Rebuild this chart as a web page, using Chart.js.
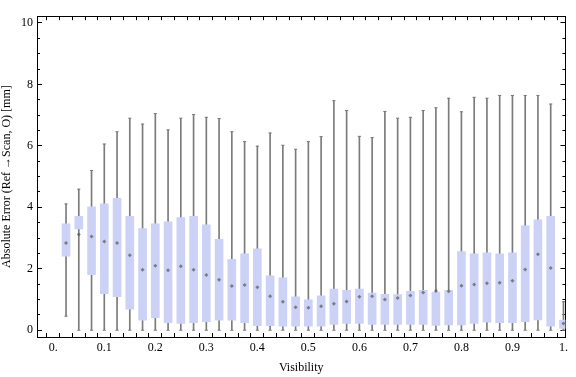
<!DOCTYPE html>
<html>
<head>
<meta charset="utf-8">
<script src="https://cdn.jsdelivr.net/npm/chart.js@4/dist/chart.umd.min.js"></script>
<style>
  html, body { margin: 0; padding: 0; background: #fff; }
  canvas { display: block; }
</style>
</head>
<body>
<canvas id="c" width="576" height="377"></canvas>
<script>
// ---- data ----
const visibility = [0.025, 0.05, 0.075, 0.1, 0.125, 0.15, 0.175, 0.2, 0.225, 0.25,
  0.275, 0.3, 0.325, 0.35, 0.375, 0.4, 0.425, 0.45, 0.475, 0.5,
  0.525, 0.55, 0.575, 0.6, 0.625, 0.65, 0.675, 0.7, 0.725, 0.75,
  0.775, 0.8, 0.825, 0.85, 0.875, 0.9, 0.925, 0.95, 0.975, 1.0];
const whiskerMin = [0.46, 0, 0, 0, 0, 0, 0, 0, 0, 0,
  0, 0, 0, 0, 0, 0, 0, 0, 0, 0,
  0, 0, 0, 0, 0, 0, 0, 0, 0, 0,
  0, 0, 0, 0, 0, 0, 0, 0, 0, 0];
const whiskerMax = [4.11, 4.59, 5.20, 6.06, 6.46, 6.90, 6.71, 7.05, 6.52, 6.90,
  7.02, 6.93, 6.89, 6.46, 6.14, 5.99, 6.42, 6.02, 5.89, 6.14,
  6.30, 7.47, 7.15, 6.31, 6.27, 7.12, 6.90, 6.93, 7.15, 7.24,
  7.55, 7.11, 7.58, 7.55, 7.64, 7.64, 7.64, 7.64, 7.36, 0.93];
const quartile1 = [2.41, 3.30, 1.81, 1.19, 1.09, 0.69, 0.33, 0.41, 0.25, 0.22,
  0.25, 0.28, 0.33, 0.33, 0.25, 0.15, 0.15, 0.13, 0.13, 0.13,
  0.13, 0.19, 0.22, 0.22, 0.19, 0.19, 0.19, 0.19, 0.19, 0.16,
  0.17, 0.17, 0.22, 0.26, 0.25, 0.25, 0.28, 0.34, 0.13, 0.06];
const quartile3 = [3.46, 3.71, 4.02, 4.11, 4.29, 3.71, 3.31, 3.46, 3.53, 3.67,
  3.71, 3.43, 2.96, 2.31, 2.49, 2.65, 1.77, 1.71, 1.09, 0.99,
  1.12, 1.34, 1.30, 1.34, 1.21, 1.17, 1.16, 1.27, 1.30, 1.24,
  1.30, 2.56, 2.49, 2.52, 2.49, 2.52, 3.40, 3.59, 3.71, 0.33];
const centerMark = [2.84, 3.12, 3.05, 2.89, 2.84, 2.44, 1.97, 2.10, 1.95, 2.08,
  1.97, 1.80, 1.64, 1.44, 1.47, 1.40, 1.11, 0.93, 0.75, 0.73,
  0.78, 0.86, 0.94, 1.09, 1.11, 1.00, 1.05, 1.13, 1.23, 1.28,
  1.27, 1.45, 1.49, 1.53, 1.55, 1.61, 1.98, 2.47, 2.03, 0.22];

const xTickValues = [0, 0.1, 0.2, 0.3, 0.4, 0.5, 0.6, 0.7, 0.8, 0.9, 1];
const xTickLabels = ['0.', '0.1', '0.2', '0.3', '0.4', '0.5', '0.6', '0.7', '0.8', '0.9', '1.'];
const yTickValues = [0, 2, 4, 6, 8, 10];
const yTickLabels = ['0', '2', '4', '6', '8', '10'];
const xMinorStep = 0.025;
const yMinorStep = 0.5;

// ---- styling ----
const FONT = '"Liberation Serif", "Times New Roman", serif';
const boxColor = '#ccd2f6';
const whiskerColor = '#7b7b7b';
const markColor = 'rgba(85,85,85,0.7)';

function stepTicks(lo, hi, step) {
  const out = [];
  const n = Math.round((hi - lo) / step);
  for (let i = 0; i <= n; i++) out.push(+(lo + i * step).toFixed(6));
  return out;
}
const xMinorTicks = stepTicks(0, 1, xMinorStep);
const yMinorTicks = stepTicks(0, 10, yMinorStep);

function labelFor(values, labels, v) {
  for (let i = 0; i < values.length; i++) if (Math.abs(values[i] - v) < 1e-9) return labels[i];
  return '';
}

const X_MIN = -0.0319, X_MAX = 1.0039;
const Y_MIN = -0.219, Y_MAX = 10.219;

const frameGrid = (len) => ({ drawOnChartArea: false, drawTicks: true, tickLength: len, tickColor: '#000', tickWidth: 1 });

const capData = [];
visibility.forEach((x, i) => { capData.push({ x: x, y: whiskerMax[i] }); capData.push({ x: x, y: whiskerMin[i] }); });

new Chart(document.getElementById('c'), {
  type: 'bar',
  data: {
    datasets: [
      {
        type: 'scatter', label: 'centre',
        data: visibility.map((x, i) => ({ x: x, y: centerMark[i] })),
        pointStyle: 'rectRot', pointRadius: 2, pointBackgroundColor: markColor,
        pointBorderWidth: 0, order: 0
      },
      {
        type: 'bar', label: 'box',
        data: visibility.map((x, i) => ({ x: x, y: [quartile1[i], quartile3[i]] })),
        backgroundColor: boxColor, borderWidth: 0, barThickness: 8, grouped: false, order: 1
      },
      {
        type: 'scatter', label: 'caps', data: capData,
        pointStyle: 'line', pointRadius: 1.6, pointBorderColor: whiskerColor, pointBorderWidth: 1, order: 2
      },
      {
        type: 'bar', label: 'whisker',
        data: visibility.map((x, i) => ({ x: x, y: [whiskerMin[i], whiskerMax[i]] })),
        backgroundColor: whiskerColor, borderWidth: 0, barThickness: 1, grouped: false, order: 3
      }
    ]
  },
  options: {
    responsive: false,
    animation: false,
    devicePixelRatio: 1,
    layout: { padding: 0 },
    plugins: { legend: { display: false }, tooltip: { enabled: false } },
    scales: {
      x: {
        type: 'linear', position: 'bottom', min: X_MIN, max: X_MAX, offset: false,
        afterBuildTicks: s => { s.ticks = xMinorTicks.map(v => ({ value: v })); },
        afterFit: s => { s.height = 40; },
        grid: frameGrid(-4),
        border: { display: true, color: '#000', width: 1 },
        ticks: {
          autoSkip: false, maxRotation: 0, minRotation: 0, padding: 8, color: '#000',
          font: { family: FONT, size: 12 },
          callback: v => labelFor(xTickValues, xTickLabels, v)
        },
        title: { display: true, text: 'Visibility', color: '#000', font: { family: FONT, size: 12 }, padding: { top: 0, bottom: 2 } }
      },
      xTop: {
        type: 'linear', position: 'top', min: X_MIN, max: X_MAX, offset: false,
        afterBuildTicks: s => { s.ticks = xMinorTicks.map(v => ({ value: v })); },
        afterFit: s => { s.height = 4; },
        grid: frameGrid(-4),
        border: { display: true, color: '#000', width: 1 },
        ticks: { display: false }
      },
      y: {
        type: 'linear', position: 'left', min: Y_MIN, max: Y_MAX, weight: 1,
        afterBuildTicks: s => { s.ticks = yTickValues.map(v => ({ value: v })); },
        afterFit: s => { s.width = 37; },
        grid: frameGrid(-5),
        border: { display: true, color: '#000', width: 1 },
        ticks: {
          autoSkip: false, padding: 9, color: '#000',
          font: { family: FONT, size: 12 },
          callback: v => labelFor(yTickValues, yTickLabels, v)
        },
        title: { display: true, text: 'Absolute Error (Ref \u2192Scan, O) [mm]', color: '#000', font: { family: FONT, size: 12 }, padding: { top: 0, bottom: 0 } }
      },
      yMinorLeft: {
        type: 'linear', position: 'left', min: Y_MIN, max: Y_MAX, weight: 0,
        afterBuildTicks: s => { s.ticks = yMinorTicks.map(v => ({ value: v })); },
        afterFit: s => { s.width = 0; },
        grid: frameGrid(-3),
        border: { display: false },
        ticks: { display: false }
      },
      yRight: {
        type: 'linear', position: 'right', min: Y_MIN, max: Y_MAX, weight: 1,
        afterBuildTicks: s => { s.ticks = yTickValues.map(v => ({ value: v })); },
        afterFit: s => { s.width = 3; },
        grid: frameGrid(-5),
        border: { display: true, color: '#000', width: 1 },
        ticks: { display: false }
      },
      yMinorRight: {
        type: 'linear', position: 'right', min: Y_MIN, max: Y_MAX, weight: 0,
        afterBuildTicks: s => { s.ticks = yMinorTicks.map(v => ({ value: v })); },
        afterFit: s => { s.width = 0; },
        grid: frameGrid(-3),
        border: { display: false },
        ticks: { display: false }
      }
    }
  }
});
</script>
</body>
</html>
